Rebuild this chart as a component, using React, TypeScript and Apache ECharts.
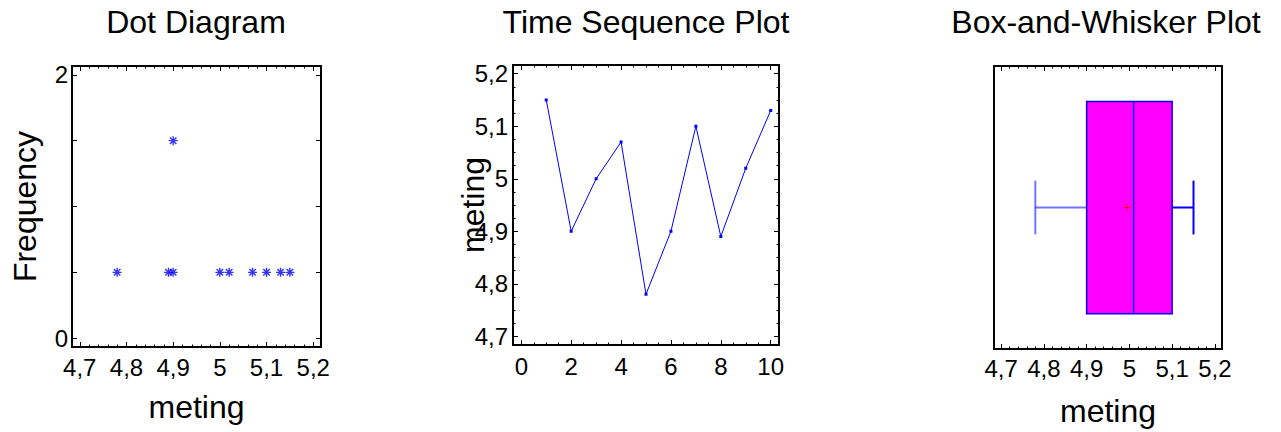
import React, { useEffect, useRef } from 'react';
import * as echarts from 'echarts';

// ---- data ----
const meting = [5.15, 4.9, 5.0, 5.07, 4.78, 4.9, 5.1, 4.89, 5.02, 5.13];
const observation = [1, 2, 3, 4, 5, 6, 7, 8, 9, 10];
const metingTicks = [4.7, 4.8, 4.9, 5.0, 5.1, 5.2];
const obsTicks = [0, 2, 4, 6, 8, 10];
const freqLabelTicks = [0, 2];
const freqTicks = [0, 0.5, 1, 1.5, 2];
const titles = ['Dot Diagram', 'Time Sequence Plot', 'Box-and-Whisker Plot'];

const FONT = "'Liberation Sans', Arial, Helvetica, sans-serif";
const BLUE = '#0000ff';

// axis ranges (with Statgraphics-like padding of 1/30 of the range)
const pad = (lo: number, hi: number) => (hi - lo) / 30;
const mMin = 4.7 - pad(4.7, 5.2);
const mMax = 5.2 + pad(4.7, 5.2);
const oMin = 0 - pad(0, 10);
const oMax = 10 + pad(0, 10);
const fMin = 0 - pad(0, 2);
const fMax = 2 + pad(0, 2);

const steps = (lo: number, hi: number, st: number) => {
  const out: number[] = [];
  const n = Math.round((hi - lo) / st);
  for (let i = 0; i <= n; i++) out.push(+(lo + i * st).toFixed(4));
  return out;
};

// dot diagram stacking
const dotPoints = (() => {
  const counts: Record<string, number> = {};
  return [...meting]
    .sort((a, b) => a - b)
    .map((v) => {
      const k = v.toFixed(2);
      counts[k] = (counts[k] || 0) + 1;
      return [v, counts[k] - 0.5];
    });
})();

// box stats (Tukey hinges)
const boxStats = (() => {
  const s = [...meting].sort((a, b) => a - b);
  const med = (a: number[]) => {
    const n = a.length;
    return n % 2 ? a[(n - 1) / 2] : (a[n / 2 - 1] + a[n / 2]) / 2;
  };
  const n = s.length;
  const lower = s.slice(0, Math.ceil(n / 2));
  const upper = s.slice(Math.floor(n / 2));
  const mean = s.reduce((a, b) => a + b, 0) / n;
  return [s[0], med(lower), med(s), med(upper), s[n - 1], mean];
})();

const comma = (v: number) => String(+(+v).toFixed(2)).replace('.', ',');

const labelStyle = { color: '#000', fontSize: 24, fontFamily: FONT };
const nameStyle = { color: '#000', fontSize: 32, fontFamily: FONT };

function xAx(grid: number, pos: string, min: number, max: number, ticks: number[], len: number, extra: any = {}) {
  return {
    type: 'value',
    gridIndex: grid,
    position: pos,
    min,
    max,
    axisLine: { show: false, onZero: false },
    splitLine: { show: false },
    axisTick: { show: true, inside: true, length: len, customValues: ticks, lineStyle: { color: '#000', width: 1 } },
    axisLabel: { show: false },
    ...extra,
  };
}

export default function App() {
  const ref = useRef<HTMLDivElement>(null);
  useEffect(() => {
    if (!ref.current) return;
    const chart = echarts.init(ref.current, undefined, { renderer: 'svg' });

    const mMinor = steps(4.7, 5.2, 0.02);
    const oMinor = steps(0, 10, 0.5);
    const yMinor = steps(4.7, 5.2, 0.025);

    const gridBase = { show: true, borderColor: '#000', borderWidth: 2, backgroundColor: 'transparent', containLabel: false };

    const option: any = {
      animation: false,
      backgroundColor: '#fff',
      grid: [
        { ...gridBase, left: 72, top: 66, width: 249, height: 281 },
        { ...gridBase, left: 513, top: 65, width: 266, height: 280 },
        { ...gridBase, left: 994, top: 66, width: 228, height: 284 },
      ],
      xAxis: [
        // panel 1
        xAx(0, 'bottom', mMin, mMax, metingTicks, 5, {
          axisLabel: { show: true, customValues: metingTicks, formatter: comma, margin: 8, ...labelStyle },
          name: 'meting', nameLocation: 'middle', nameGap: 44, nameMoveOverlap: false, nameTextStyle: nameStyle,
        }),
        xAx(0, 'bottom', mMin, mMax, mMinor, 2.5),
        xAx(0, 'top', mMin, mMax, metingTicks, 5),
        xAx(0, 'top', mMin, mMax, mMinor, 2.5),
        // panel 2
        xAx(1, 'bottom', oMin, oMax, obsTicks, 5, {
          axisLabel: { show: true, customValues: obsTicks, formatter: (v: number) => String(v), margin: 9, ...labelStyle },
        }),
        xAx(1, 'bottom', oMin, oMax, oMinor, 2.5),
        xAx(1, 'top', oMin, oMax, obsTicks, 5),
        xAx(1, 'top', oMin, oMax, oMinor, 2.5),
        // panel 3
        xAx(2, 'bottom', mMin, mMax, metingTicks, 5, {
          axisLabel: { show: true, customValues: metingTicks, formatter: comma, margin: 7, ...labelStyle },
          name: 'meting', nameLocation: 'middle', nameGap: 46, nameMoveOverlap: false, nameTextStyle: nameStyle,
        }),
        xAx(2, 'bottom', mMin, mMax, mMinor, 2.5),
        xAx(2, 'top', mMin, mMax, metingTicks, 5),
        xAx(2, 'top', mMin, mMax, mMinor, 2.5),
      ],
      yAxis: [
        // panel 1
        xAx(0, 'left', fMin, fMax, freqTicks, 5, {
          axisLabel: { show: true, customValues: freqLabelTicks, formatter: (v: number) => String(v), margin: 4, ...labelStyle },
          name: 'Frequency', nameLocation: 'middle', nameGap: 31, nameMoveOverlap: false, nameTextStyle: nameStyle,
        }),
        xAx(0, 'right', fMin, fMax, freqTicks, 5),
        // panel 2
        xAx(1, 'left', mMin, mMax, metingTicks, 5, {
          axisLabel: { show: true, customValues: metingTicks, formatter: comma, margin: 5, ...labelStyle },
          name: 'meting', nameLocation: 'middle', nameGap: 24, nameMoveOverlap: false, nameTextStyle: nameStyle,
        }),
        xAx(1, 'left', mMin, mMax, yMinor, 2.5),
        xAx(1, 'right', mMin, mMax, metingTicks, 5),
        xAx(1, 'right', mMin, mMax, yMinor, 2.5),
        // panel 3 (hidden)
        { type: 'value', gridIndex: 2, min: 0, max: 1, show: false, axisLine: { onZero: false } },
      ],
      series: [
        {
          type: 'scatter',
          xAxisIndex: 0,
          yAxisIndex: 0,
          data: dotPoints,
          symbol: 'path://M-5,0L5,0M0,-5L0,5M-3.6,-3.6L3.6,3.6M-3.6,3.6L3.6,-3.6',
          symbolSize: 9,
          itemStyle: { color: 'none', borderColor: BLUE, borderWidth: 1.4 },
        },
        {
          type: 'line',
          xAxisIndex: 4,
          yAxisIndex: 2,
          data: observation.map((o, i) => [o, meting[i]]),
          symbol: 'rect',
          symbolSize: 3,
          showSymbol: true,
          lineStyle: { color: BLUE, width: 1 },
          itemStyle: { color: BLUE },
        },
        {
          type: 'custom',
          xAxisIndex: 8,
          yAxisIndex: 6,
          data: [boxStats],
          renderItem: (params: any, api: any) => {
            const mn = api.value(0), q1 = api.value(1), md = api.value(2), q3 = api.value(3), mx = api.value(4), mean = api.value(5);
            const c = (x: number, y: number) => api.coord([x, y]);
            const [xq1, yTop] = c(q1, 0.875);
            const [xq3, yBot] = c(q3, 0.125);
            const [xmd] = c(md, 0.5);
            const [xmn, yMid] = c(mn, 0.5);
            const [xmx] = c(mx, 0.5);
            const [, yCapT] = c(mn, 0.595);
            const [, yCapB] = c(mn, 0.405);
            const [xmean] = c(mean, 0.5);
            const ln = (x1: number, y1: number, x2: number, y2: number, stroke = BLUE, w = 1.5, op = 1) => ({
              type: 'line',
              shape: { x1, y1, x2, y2 },
              style: { stroke, lineWidth: w, opacity: op },
            });
            return {
              type: 'group',
              children: [
                ln(xmn, yMid, xq1, yMid, BLUE, 2, 0.55),
                ln(xmn, yCapT, xmn, yCapB, BLUE, 2, 0.55),
                ln(xq3, yMid, xmx, yMid, BLUE, 2),
                ln(xmx, yCapT, xmx, yCapB, BLUE, 2),
                {
                  type: 'rect',
                  shape: { x: xq1, y: yTop, width: xq3 - xq1, height: yBot - yTop },
                  style: { fill: '#ff00ff', stroke: BLUE, lineWidth: 1.5 },
                },
                ln(xmd, yTop, xmd, yBot, BLUE, 1.5),
                ln(xmean - 3, yMid, xmean + 3, yMid, '#ff0000', 1),
                ln(xmean, yMid - 3, xmean, yMid + 3, '#ff0000', 1),
              ],
            };
          },
        },
      ],
      graphic: titles.map((t, i) => ({
        type: 'text',
        x: [196, 646, 1106][i],
        y: 22,
        style: { text: t, fontSize: 32, fontFamily: FONT, fill: '#000', align: 'center', verticalAlign: 'middle' },
      })),
    };
    chart.setOption(option);
    return () => chart.dispose();
  }, []);
  return <div ref={ref} style={{ position: 'absolute', left: 0, top: 0, width: 1281, height: 432 }} />;
}
